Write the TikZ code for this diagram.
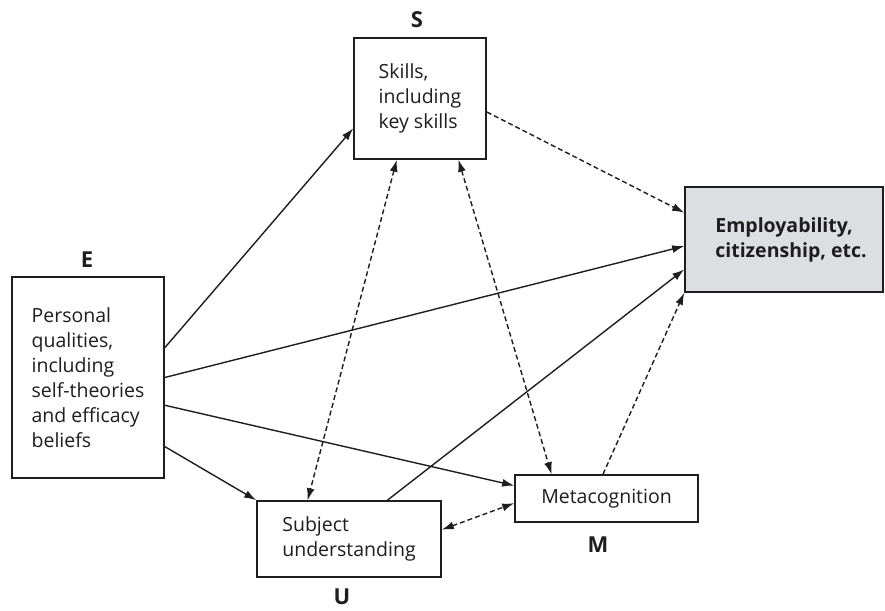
\documentclass[tikz,border=0pt]{standalone}
\usepackage{fontspec}
\setmainfont{Open Sans}
\usetikzlibrary{arrows.meta,calc}
\definecolor{ink}{RGB}{30,30,30}
\definecolor{empfill}{RGB}{221,222,225}
\begin{document}
\begin{tikzpicture}[x=1pt,y=-1pt,
  box/.style={draw=ink,line width=1.6pt,inner sep=0pt,align=left,text=ink,font=\fontsize{19.5}{25}\selectfont},
  lbl/.style={text=ink,inner sep=1pt,font=\bfseries\fontsize{22}{24}\selectfont},
  sol/.style={draw=ink,line width=1.4pt,-{Latex[length=12pt,width=8pt]}},
  dsh/.style={draw=ink,line width=1.4pt,dash pattern=on 5pt off 3pt,-{Latex[length=12pt,width=8pt]}},
  dshb/.style={draw=ink,line width=1.4pt,dash pattern=on 5pt off 3pt,{Latex[length=12pt,width=8pt]}-{Latex[length=12pt,width=8pt]}}]
\useasboundingbox (0,0) rectangle (885,610);
\fill[white] (0,0) rectangle (885,610);
% boxes
\node[box,minimum width=152pt,minimum height=201pt] (E) at (88,377.5) {Personal\\qualities,\\including\\self-theories\\and efficacy\\beliefs};
\node[box,minimum width=132pt,minimum height=121pt] (S) at (420,98.5) {Skills,\\including\\key skills};
\node[box,fill=empfill,minimum width=198pt,minimum height=105pt,font=\bfseries\fontsize{19.5}{25}\selectfont] (P) at (784,239.5) {\hspace*{14pt}Employability,\\\hspace*{14pt}citizenship, etc.};
\node[box,minimum width=184pt,minimum height=76pt] (U) at (349,539) {Subject\\understanding};
\node[box,minimum width=183pt,minimum height=47pt] (M) at (606.5,498.5) {Metacognition};
% labels
\node[lbl] (Elbl) at (87,260) {E};
\node[lbl] (Slbl) at (417,20) {S};
\node[lbl] (Ulbl) at (342,597) {U};
\node[lbl] (Mlbl) at (598,545) {M};
% solid arrows
\draw[sol] ($(E.north east)!0.353!(E.south east)$) -- ($(S.north west)!0.744!(S.south west)$);
\draw[sol] (E.east) -- ($(P.north west)!0.562!(P.south west)$);
\draw[sol] ($(E.north east)!0.637!(E.south east)$) -- ($(M.north west)!0.234!(M.south west)$);
\draw[sol] ($(E.north east)!0.841!(E.south east)$) -- (U.north west);
\draw[sol] ($(U.north west)!0.707!(U.north east)$) -- ($(P.north west)!0.781!(P.south west)$);
% dashed arrows
\draw[dsh] ($(S.north east)!0.61!(S.south east)$) -- ($(P.north west)!0.248!(P.south west)$);
\draw[dsh] ($(M.north west)!0.481!(M.north east)$) -- (P.south west);
\draw[dshb] ($(S.south west)!0.326!(S.south east)$) -- ($(U.north west)!0.277!(U.north east)$);
\draw[dshb] ($(S.south west)!0.788!(S.south east)$) -- ($(M.north west)!0.202!(M.north east)$);
\draw[dshb] ($(U.north east)!0.38!(U.south east)$) -- ($(M.north west)!0.596!(M.south west)$);
\end{tikzpicture}
\end{document}
